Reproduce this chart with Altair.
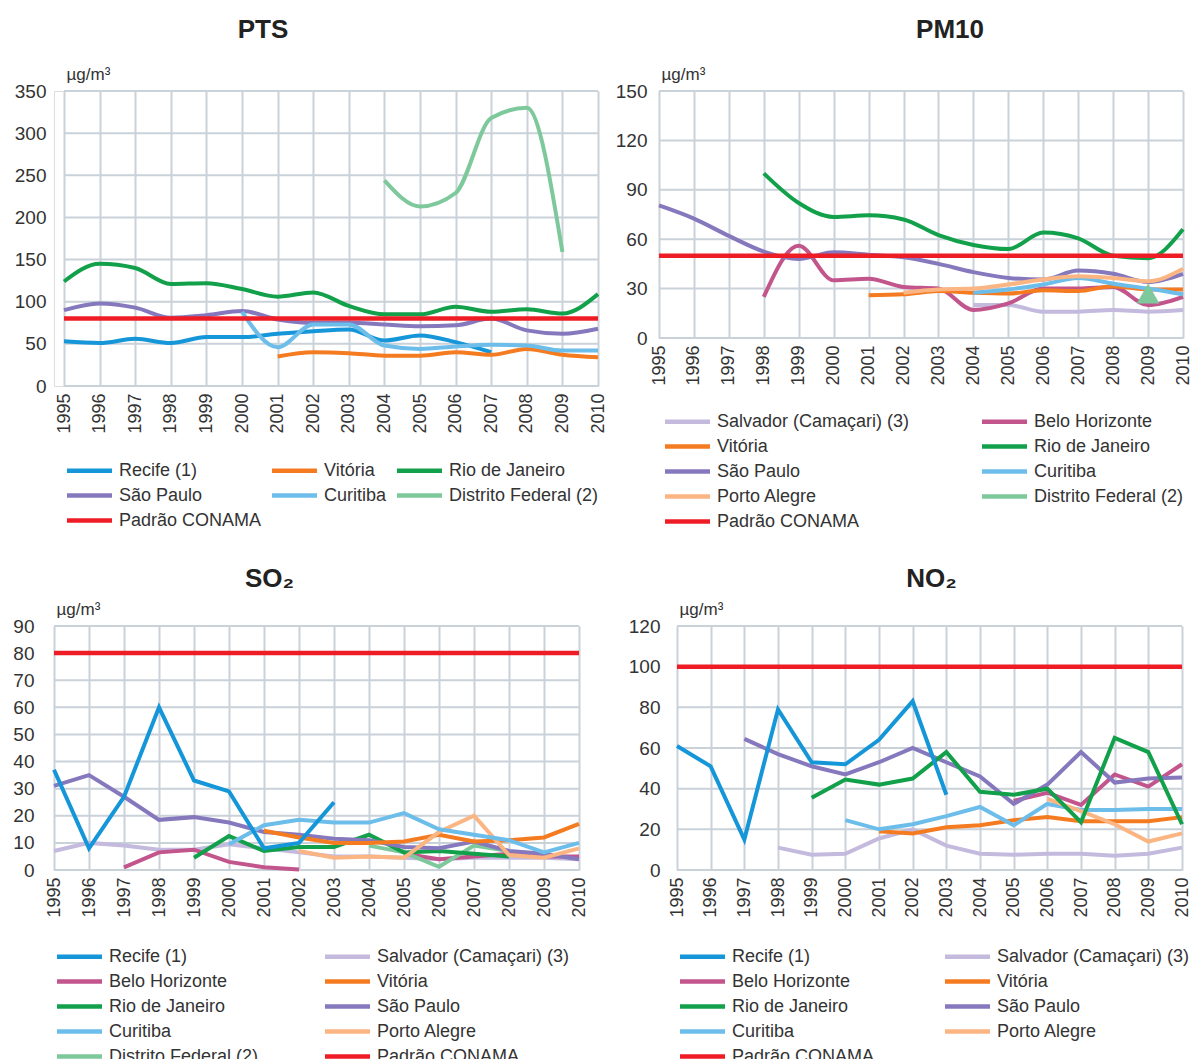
import altair as alt
import pandas as pd

YEARS = list(range(1995, 2011))
N = None

RECIFE = "Recife (1)"
SALVADOR = "Salvador (Camaçari) (3)"
BH = "Belo Horizonte"
VITORIA = "Vitória"
RIO = "Rio de Janeiro"
SP = "São Paulo"
CURITIBA = "Curitiba"
PA = "Porto Alegre"
DF = "Distrito Federal (2)"
PADRAO = "Padrão CONAMA"

COLORS = {
    RECIFE: "#1496d8",
    SALVADOR: "#c3bade",
    BH: "#c2558c",
    VITORIA: "#f47b20",
    RIO: "#12a04a",
    SP: "#8678bd",
    CURITIBA: "#6cbde9",
    PA: "#fbb582",
    DF: "#7ec99b",
    PADRAO: "#ee1c25",
}

# ---------------- PTS (1995..2010) ----------------
pts_recife = [53, 51, 56, 51, 58, 58, 62, 65, 67, 54, 60, 52, 40, N, N, N]
pts_vitoria = [N, N, N, N, N, N, 35, 40, 39, 36, 36, 40, 37, 44, 37, 34]
pts_rio = [124, 145, 140, 121, 122, 115, 106, 111, 95, 85, 85, 94, 88, 91, 86, 109]
pts_sp = [90, 98, 93, 81, 84, 89, 79, 75, 75, 73, 71, 72, 80, 66, 62, 68]
pts_curitiba = [N, N, N, N, N, 88, 46, 73, 73, 48, 44, 47, 49, 48, 42, 42]
pts_df = [N, N, N, N, N, N, N, N, N, 244, 213, 229, 318, 330, 159, N]
pts_standard = 80

# ---------------- PM10 ----------------
pm_salvador = [N, N, N, N, N, N, N, N, N, 20, 20, 16, 16, 17, 16, 17]
pm_bh = [N, N, N, 25, 56, 35, 36, 31, 30, 17, 21, 30, 30, 31, 20, 25]
pm_vitoria = [N, N, N, N, N, N, 26, 26.5, 28.5, 27.5, 27, 29, 28.5, 31.5, 29.5, 29.5]
pm_rio = [N, N, N, 100, 82, 73.5, 74.5, 72, 62.5, 56.5, 54, 64, 60.5, 50, 48.5, 66]
pm_sp = [80.5, 72.5, 62, 52.5, 48, 52, 50.5, 49, 45, 40, 36.5, 35.5, 41, 39, 34, 39]
pm_curitiba = [N, N, N, N, N, N, N, N, N, 27.5, 29.5, 32.5, 36.5, 33, 30, 26.5]
pm_pa = [N, N, N, N, N, N, N, 27.5, 29.5, 30, 32.5, 35.5, 37.5, 36.5, 34.5, 42]
pm_df = [N, N, N, N, N, N, N, N, N, N, N, N, N, N, 27, N]
pm_standard = 50

# ---------------- SO2 ----------------
so_recife = [37, 8, 27, 60, 33, 29, 8, 10, 25, N, N, N, N, N, N, N]
so_salvador = [7, 10, 9, 7.5, 7.5, 9.5, 8, 6.5, 5, 5, 4.5, 4, 4.5, 4.5, 4.5, 4]
so_bh = [N, N, 1, 6.5, 7.5, 3, 1, 0.2, N, N, 6, 4, 5, 6, 5, 5]
so_vitoria = [N, N, N, N, N, N, 14.5, 12, 10, 10, 10.5, 13, 10.5, 11, 12, 17]
so_rio = [N, N, N, N, 4.5, 12.5, 7, 8.5, 8.5, 13, 6.5, 7, 6, 5, N, N]
so_sp = [31, 35, 27, 18.5, 19.5, 17.5, 14, 13, 11.5, 11, 8.5, 8, 10.5, 7, 6, 4]
so_curitiba = [N, N, N, N, N, 9.5, 16.5, 18.5, 17.5, 17.5, 21, 15, 13, 11, 6.5, 10]
so_pa = [N, N, N, N, N, N, N, 7, 4.5, 5, 4.5, 14, 20, 5.5, 4.5, 8]
so_df = [N, N, N, N, N, N, N, N, N, 9, 6.5, 1.2, 9, 7, N, N]
so_standard = 80

# ---------------- NO2 ----------------
no_recife = [61, 51, 15, 79, 53, 52, 64, 83, 37, N, N, N, N, N, N, N]
no_salvador = [N, N, N, 11, 7.5, 8, 15.5, 20, 12, 8, 7.5, 8, 8, 7, 8, 11]
no_bh = [N, N, N, N, N, N, N, N, N, N, 34, 38, 32, 47, 41, 52]
no_vitoria = [N, N, N, N, N, N, 19, 18, 21, 22, 24.5, 26, 24, 24, 24, 26]
no_rio = [N, N, N, N, 35.5, 44.5, 42, 45, 58, 38.5, 37, 40, 23.5, 65, 58, 22.5]
no_sp = [N, N, 64.5, 57, 51, 47, 53, 60, 53, 46, 32.5, 42, 58, 43, 45, 45.5]
no_curitiba = [N, N, N, N, N, 24.5, 20, 22.5, 26.5, 31, 22, 32.5, 29.5, 29.5, 30, 30]
no_pa = [N, N, N, N, N, N, N, N, N, N, N, 35, 29, 22.5, 14, 18]
no_standard = 100

FONT = "Liberation Sans"
GRID = "#c9d1d9"
TXT = "#333333"
LEGEND_STROKE = "M-1.76,0H1.76"


def to_rows(series):
    recs = []
    for name, vals in series:
        seg = 0
        for yr, v in zip(YEARS, vals):
            if v is None:
                seg += 1
                continue
            recs.append({"ano": yr, "valor": v, "serie": name, "seg": f"{name}-{seg}"})
    return pd.DataFrame(recs)


def panel(title, dx, toff, series, order, standard, ymax, ystep, width, height,
          columns, colpad, legx, legy, lpad, smooth, xoff=0, points=None):
    df = to_rows(series)
    ticks = list(range(0, ymax + 1, ystep))
    std = pd.DataFrame({"ano": [YEARS[0], YEARS[-1]], "valor": [standard] * 2,
                        "serie": [PADRAO] * 2, "seg": [PADRAO] * 2})
    grid_df = pd.DataFrame({"ano": [YEARS[0]] * len(ticks), "valor": ticks,
                            "fim": [YEARS[-1]] * len(ticks)})
    color = alt.Color(
        "serie:N",
        scale=alt.Scale(domain=order, range=[COLORS[n] for n in order]),
        sort=order,
        legend=alt.Legend(
            title=None, orient="none", legendX=legx, legendY=legy, columns=columns,
            direction="horizontal",
            symbolType=LEGEND_STROKE, symbolStrokeWidth=4.5, symbolSize=655,
            labelFont=FONT, labelFontSize=18, labelColor=TXT, labelOffset=14,
            columnPadding=colpad, rowPadding=0, labelLimit=400, gridAlign="each",
        ),
    )
    x_scale = alt.Scale(domain=[1995, 2010], nice=False, zero=False, range=[xoff, width])
    x_axis = alt.Axis(values=YEARS, format="d", labelAngle=-90, title=None,
                      ticks=False, domain=False, labelFont=FONT,
                      labelFontSize=18, labelColor=TXT, labelPadding=7,
                      gridColor=GRID, gridWidth=2, labelFlush=False,
                      labelOverlap=False)
    x = alt.X("ano:Q", scale=x_scale, axis=x_axis)
    y = alt.Y("valor:Q", scale=alt.Scale(domain=[0, ymax], nice=False),
              axis=alt.Axis(values=ticks, title="µg/m³", grid=False,
                            titleAngle=0, titleAlign="left", titleX=xoff + 2, titleY=-8,
                            titleBaseline="bottom", titleFont=FONT, titleFontSize=17,
                            titleFontWeight="normal", titleColor=TXT, ticks=False,
                            domain=False, labelFont=FONT, labelFontSize=19,
                            labelColor=TXT, labelPadding=lpad))
    grid = alt.Chart(grid_df).mark_rule(color=GRID, strokeWidth=2).encode(
        x=x, x2="fim:Q", y=y)
    interp = "monotone" if smooth else "linear"
    lines = alt.Chart(df).mark_line(strokeWidth=4, interpolate=interp).encode(
        x=x, y=y, color=color, detail="seg:N")
    red = alt.Chart(std).mark_line(strokeWidth=4.5).encode(x=x, y=y, color=color)
    layers = [grid, lines, red]
    if points is not None:
        pdf = to_rows(points)
        pts = alt.Chart(pdf).mark_point(shape="triangle-up", filled=True, size=520,
                                        opacity=1).encode(x=x, y=y, color=color)
        layers.append(pts)
    return alt.layer(*layers).properties(
        width=width, height=height,
        title=alt.Title(title, fontSize=26, fontWeight="bold", font=FONT, color="#222",
                        anchor="middle", dx=dx, offset=toff),
    )


pts_chart = panel(
    "PTS", -63, 22,
    [(RECIFE, pts_recife), (VITORIA, pts_vitoria), (RIO, pts_rio), (SP, pts_sp),
     (CURITIBA, pts_curitiba), (DF, pts_df)],
    [RECIFE, VITORIA, RIO, SP, CURITIBA, DF, PADRAO], pts_standard, 350, 50,
    544, 295, 3, 0, 20, 364, 8, True, xoff=10)

pm_chart = panel(
    "PM10", 29, 22,
    [(SALVADOR, pm_salvador), (BH, pm_bh), (SP, pm_sp), (RIO, pm_rio),
     (VITORIA, pm_vitoria), (CURITIBA, pm_curitiba), (PA, pm_pa)],
    [SALVADOR, BH, VITORIA, RIO, SP, CURITIBA, PA, DF, PADRAO], pm_standard, 150, 30,
    524, 247, 2, 62, 13, 315, 12, True, points=[(DF, pm_df)])

so_chart = panel(
    "SO₂", -47, 8,
    [(SALVADOR, so_salvador), (BH, so_bh), (DF, so_df), (RIO, so_rio), (SP, so_sp),
     (VITORIA, so_vitoria), (PA, so_pa), (CURITIBA, so_curitiba), (RECIFE, so_recife)],
    [RECIFE, SALVADOR, BH, VITORIA, RIO, SP, CURITIBA, PA, DF, PADRAO], so_standard, 90, 10,
    525, 244, 2, 56, 10, 315, 20, False)

no_chart = panel(
    "NO₂", 2, 8,
    [(SALVADOR, no_salvador), (VITORIA, no_vitoria), (CURITIBA, no_curitiba),
     (PA, no_pa), (BH, no_bh), (SP, no_sp), (RIO, no_rio), (RECIFE, no_recife)],
    [RECIFE, SALVADOR, BH, VITORIA, RIO, SP, CURITIBA, PA, PADRAO], no_standard, 120, 20,
    505, 244, 2, 60, 10, 315, 17, False)

top = alt.hconcat(pts_chart, pm_chart, spacing=6).resolve_scale(color="independent")
bottom = alt.hconcat(so_chart, no_chart, spacing=38).resolve_scale(color="independent")
chart = alt.vconcat(top, bottom, spacing=33).resolve_scale(
    color="independent"
).configure_view(
    stroke="transparent", strokeWidth=0
).configure(background="white").properties(
    padding={"left": 4, "top": 8, "right": 0, "bottom": 0}
)

chart.save("out.html", embed_options={"renderer": "svg", "actions": False})
